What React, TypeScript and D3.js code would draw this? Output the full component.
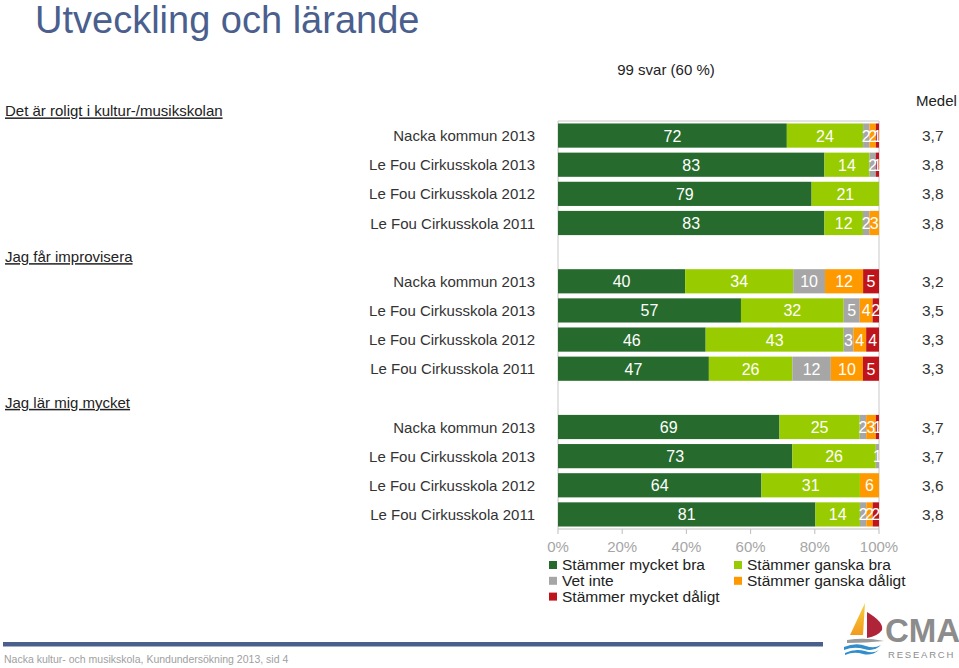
import React from "react";
import * as d3 from "d3";

const title = "Utveckling och lärande";
const subtitle = "99 svar (60 %)";
const questions = ["Det är roligt i kultur-/musikskolan", "Jag får improvisera", "Jag lär mig mycket"];
const categories = ["Nacka kommun 2013", "Le Fou Cirkusskola 2013", "Le Fou Cirkusskola 2012", "Le Fou Cirkusskola 2011"];
const seriesNames = ["Stämmer mycket bra", "Stämmer ganska bra", "Vet inte", "Stämmer ganska dåligt", "Stämmer mycket dåligt"];
const seriesColors = ["#266b2d", "#99cc00", "#a6a6a6", "#ff9900", "#c0141c"];

const mycketBra = [72, 83, 79, 83, 40, 57, 46, 47, 69, 73, 64, 81];
const ganskaBra = [24, 14, 21, 12, 34, 32, 43, 26, 25, 26, 31, 14];
const vetInte = [2, 2, 0, 2, 10, 5, 3, 12, 2, 1, 0, 2];
const ganskaDaligt = [2, 0, 0, 3, 12, 4, 4, 10, 3, 0, 6, 2];
const mycketDaligt = [1, 1, 0, 0, 5, 2, 4, 5, 1, 0, 0, 2];
const medel = ["3,7", "3,8", "3,8", "3,8", "3,2", "3,5", "3,3", "3,3", "3,7", "3,7", "3,6", "3,8"];
const tickValues = [0, 0.2, 0.4, 0.6, 0.8, 1];
const footer = "Nacka kultur- och musikskola, Kundundersökning 2013, sid 4";

const FONT = "'Liberation Sans', Arial, sans-serif";

export default function App() {
  const keys = ["s0", "s1", "s2", "s3", "s4"];
  const seriesArrays = [mycketBra, ganskaBra, vetInte, ganskaDaligt, mycketDaligt];
  const table = mycketBra.map((_, i) => {
    const row: any = { idx: i };
    keys.forEach((k, j) => (row[k] = seriesArrays[j][i]));
    return row;
  });
  const stacked = d3.stack<any>().keys(keys).offset(d3.stackOffsetExpand)(table);

  const x = d3.scaleLinear().domain([0, 1]).range([558, 879]);
  const y = d3.scaleBand<number>().domain(d3.range(14)).range([121, 529]).paddingInner(0.17).paddingOuter(0.085);
  const band = (i: number) => i + Math.floor(i / 4);
  const bw = y.bandwidth();
  const center = (b: number) => (y(b) as number) + bw / 2;
  const step = y.step();

  const plotTop = 121, plotBottom = 529;

  return (
    <svg width={959} height={668} style={{ position: "absolute", left: 0, top: 0, fontFamily: FONT }}>
      <rect x={0} y={0} width={959} height={668} fill="#ffffff" />
      <text x={35} y={33} fontSize={38} fill="#4a5f8e">{title}</text>
      <text x={666} y={75} fontSize={15} fill="#222">
        <tspan textAnchor="middle">{subtitle}</tspan>
      </text>
      <text x={916} y={106} fontSize={15} fill="#222">Medel</text>

      {questions.map((q, qi) => (
        <text key={q} x={5} y={center(qi * 5 - 1 < 0 ? 0 : qi * 5 - 1) + (qi === 0 ? -step : 0) + 10} fontSize={15} fill="#222" textDecoration="underline">{q}</text>
      ))}

      {mycketBra.map((_, i) => (
        <text key={"c" + i} x={535} y={center(band(i)) + 5.5} fontSize={15} fill="#333" textAnchor="end">{categories[i % 4]}</text>
      ))}

      {/* frame */}
      <line x1={x(0)} x2={x(1)} y1={plotTop} y2={plotTop} stroke="#c8c8c8" />
      <line x1={x(0)} x2={x(0)} y1={plotTop} y2={plotBottom} stroke="#c8c8c8" />
      <line x1={x(1)} x2={x(1)} y1={plotTop} y2={plotBottom} stroke="#c8c8c8" />
      <line x1={x(0)} x2={x(1)} y1={plotBottom} y2={plotBottom} stroke="#bdbdbd" />
      {tickValues.map((t) => (
        <g key={t}>
          <line x1={x(t)} x2={x(t)} y1={plotBottom} y2={plotBottom + 5} stroke="#bdbdbd" />
          <text x={x(t)} y={552} fontSize={15} fill="#a6a6a6" textAnchor="middle">{Math.round(t * 100) + "%"}</text>
        </g>
      ))}

      {stacked.map((s, si) => (
        <g key={s.key}>
          {s.map((d, i) => (
            <rect key={i} x={x(d[0])} y={y(band(i)) as number} width={Math.max(0, x(d[1]) - x(d[0]))} height={bw} fill={seriesColors[si]} />
          ))}
        </g>
      ))}
      {stacked.map((s, si) => (
        <g key={"l" + s.key}>
          {s.map((d, i) => {
            const v = seriesArrays[si][i];
            if (!v) return null;
            return (
              <text key={i} x={(x(d[0]) + x(d[1])) / 2} y={center(band(i)) + 6} fontSize={16} fill="#ffffff" textAnchor="middle">{v}</text>
            );
          })}
        </g>
      ))}

      {medel.map((m, i) => (
        <text key={"m" + i} x={922} y={center(band(i)) + 5.5} fontSize={15.5} fill="#333">{m}</text>
      ))}

      {/* legend */}
      {seriesNames.map((n, i) => {
        const col = i % 2;
        const row = Math.floor(i / 2);
        const lx = col === 0 ? 549 : 734;
        const ly = 570 + row * 15.8;
        return (
          <g key={n}>
            <rect x={lx} y={ly - 9} width={8} height={8} fill={seriesColors[i]} />
            <text x={lx + 13} y={ly} fontSize={15.5} fill="#222">{n}</text>
          </g>
        );
      })}

      {/* footer */}
      <rect x={3} y={642} width={820} height={4.5} fill="#4a5f8c" />
      <text x={4} y={663} fontSize={10.5} fill="#a0a0a0">{footer}</text>

      {/* logo */}
      <defs>
        <linearGradient id="sailGrad" x1="0" y1="1" x2="0" y2="0">
          <stop offset="0" stopColor="#f39a1e" />
          <stop offset="1" stopColor="#f7d03c" />
        </linearGradient>
      </defs>
      <path d="M865,603 L850,635 L863,635 Z" fill="url(#sailGrad)" />
      <path d="M867,612 Q884,622 882,630 Q878,636 867,638 Z" fill="#b0243a" />
      <path d="M847,640 Q865,637 884,641 Q866,643 847,643 Z" fill="#9a9a9a" />
      <path d="M844,647 Q856,642 866,646 Q874,649 881,645 Q874,652 864,649 Q854,646 844,650 Z" fill="#2f8ecb" />
      <path d="M845,653 Q855,648 865,651 Q873,654 879,650 Q872,656 863,654 Q854,651 845,655 Z" fill="#2f8ecb" />
      <text x={885} y={642} fontSize={33} fontWeight="bold" fill="#8c8c8c">CMA</text>
      <text x={888} y={658} fontSize={9.5} fill="#8c8c8c" letterSpacing={1.8}>RESEARCH</text>
    </svg>
  );
}
